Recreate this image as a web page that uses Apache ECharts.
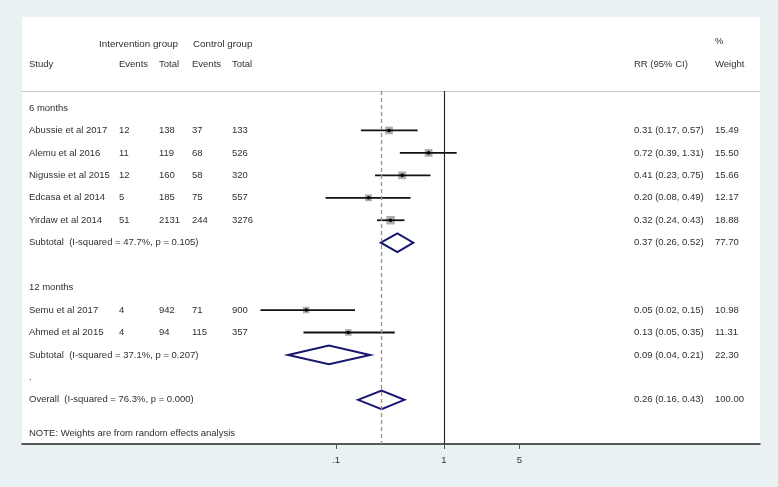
<!DOCTYPE html>
<html><head><meta charset="utf-8">
<script src="https://cdn.jsdelivr.net/npm/echarts@6/dist/echarts.min.js"></script>
<style>html,body{margin:0;padding:0;background:#e9f1f3}#c{width:778px;height:487px}</style>
</head><body><div id="c"></div><script>
// ---- data ----
const studies = ['Abussie et al 2017','Alemu et al 2016','Nigussie et al 2015','Edcasa et al 2014','Yirdaw et al 2014','Semu et al 2017','Ahmed et al 2015'];
const intEvents = [12, 11, 12, 5, 51, 4, 4];
const intTotal = [138, 119, 160, 185, 2131, 942, 94];
const ctlEvents = [37, 68, 58, 75, 244, 71, 115];
const ctlTotal = [133, 526, 320, 557, 3276, 900, 357];
const rr = [0.31, 0.72, 0.41, 0.20, 0.32, 0.053, 0.13];
const rrLo = [0.17, 0.39, 0.23, 0.08, 0.24, 0.02, 0.05];
const rrHi = [0.57, 1.31, 0.75, 0.49, 0.43, 0.15, 0.35];
const weight = [15.49, 15.50, 15.66, 12.17, 18.88, 10.98, 11.31];
const studyRows = [1, 2, 3, 4, 5, 9, 10];

const groups = ['6 months', '12 months'];
const groupRows = [0, 8];
const subLabels = ['Subtotal  (I-squared = 47.7%, p = 0.105)', 'Subtotal  (I-squared = 37.1%, p = 0.207)'];
const subRR = [0.37, 0.086];
const subLo = [0.26, 0.036];
const subHi = [0.52, 0.207];
const subWeight = [77.70, 22.30];
const subRows = [6, 11];

const overallLabel = 'Overall  (I-squared = 76.3%, p = 0.000)';
const overallRR = 0.264, overallLo = 0.16, overallHi = 0.43, overallWeight = 100.00;
const overallRow = 13;
const dotRow = 12;
const note = 'NOTE: Weights are from random effects analysis';
const noteRow = 14.5;

const tickValues = [0.1, 1, 5];
const tickLabels = ['.1', '1', '5'];

// ---- layout ----
const COL = {study: 7, intHead: 77, ctlHead: 171, intEv: 97, intTot: 137, ctlEv: 170, ctlTot: 210, rr: 612, wt: 693};
const HEAD1 = -2.85, HEAD2 = -1.95, PCT = -2.95;
const FAM = '"Liberation Sans", Arial, sans-serif';
const FONT = '9.5px ' + FAM;
const HFONT = '9.8px ' + FAM;
const TEXT = '#303030';
const lg = Math.log10;
const fmtCI = (a, b, c) => `${a.toFixed(2)} (${b.toFixed(2)}, ${c.toFixed(2)})`;

const textItems = [];
function addText(x, row, str, font) { textItems.push({value: [x, row], str: String(str), font: font || FONT}); }
addText(COL.intHead, HEAD1, 'Intervention group', HFONT);
addText(COL.ctlHead, HEAD1, 'Control group', HFONT);
addText(COL.wt, PCT, '%');
addText(COL.study, HEAD2, 'Study');
addText(COL.intEv, HEAD2, 'Events');
addText(COL.intTot, HEAD2, 'Total');
addText(COL.ctlEv, HEAD2, 'Events');
addText(COL.ctlTot, HEAD2, 'Total');
addText(COL.rr, HEAD2, 'RR (95% CI)');
addText(COL.wt, HEAD2, 'Weight');
groups.forEach((g, i) => addText(COL.study, groupRows[i], g));
studies.forEach((s, i) => {
  const r = studyRows[i];
  addText(COL.study, r, s);
  addText(COL.intEv, r, intEvents[i]);
  addText(COL.intTot, r, intTotal[i]);
  addText(COL.ctlEv, r, ctlEvents[i]);
  addText(COL.ctlTot, r, ctlTotal[i]);
  addText(COL.rr, r, fmtCI(rr[i], rrLo[i], rrHi[i]));
  addText(COL.wt, r, weight[i].toFixed(2));
});
subLabels.forEach((s, i) => {
  addText(COL.study, subRows[i], s);
  addText(COL.rr, subRows[i], fmtCI(subRR[i], subLo[i], subHi[i]));
  addText(COL.wt, subRows[i], subWeight[i].toFixed(2));
});
addText(COL.study, dotRow, '.');
addText(COL.study, overallRow, overallLabel);
addText(COL.rr, overallRow, fmtCI(overallRR, overallLo, overallHi));
addText(COL.wt, overallRow, overallWeight.toFixed(2));
addText(COL.study, noteRow, note);

const studyData = studies.map((s, i) => [lg(rr[i]), lg(rrLo[i]), lg(rrHi[i]), studyRows[i], weight[i]]);
const diamondData = subRR.map((v, i) => [lg(v), lg(subLo[i]), lg(subHi[i]), subRows[i]])
  .concat([[lg(overallRR), lg(overallLo), lg(overallHi), overallRow]]);

const chart = echarts.init(document.getElementById('c'), null, {renderer: 'canvas'});
const XMIN = -3.9074, XMAX = 2.9259;
chart.setOption({
  backgroundColor: '#e9f1f3',
  animation: false,
  grid: [
    {left: 22, right: 18, top: 17, bottom: 43, show: true, backgroundColor: '#ffffff', borderWidth: 0},
    {left: 22, right: 18, top: 91, bottom: 43}
  ],
  xAxis: [
    {gridIndex: 0, type: 'value', min: 0, max: 738, show: false},
    {gridIndex: 1, type: 'value', min: XMIN, max: XMAX, position: 'bottom',
      axisLine: {show: true, onZero: false, lineStyle: {color: '#222', width: 1.5}},
      axisTick: {show: true, length: 5, customValues: tickValues.map(lg), lineStyle: {color: '#555'}},
      axisLabel: {show: true, margin: 11, color: '#333', fontSize: 9.5, fontFamily: FAM,
        customValues: tickValues.map(lg),
        formatter: v => { const i = tickValues.findIndex(t => Math.abs(lg(t) - v) < 1e-6); return i >= 0 ? tickLabels[i] : ''; }},
      splitLine: {show: false}},
    {gridIndex: 1, type: 'value', min: XMIN, max: XMAX, position: 'top',
      axisLine: {show: true, onZero: false, lineStyle: {color: '#c8c8c8', width: 1}},
      axisTick: {show: false}, axisLabel: {show: false}, splitLine: {show: false}}
  ],
  yAxis: [
    {gridIndex: 0, type: 'value', inverse: true, min: -4.0535, max: 14.9666, show: false},
    {gridIndex: 1, type: 'value', inverse: true, min: -0.757, max: 14.9666, show: false}
  ],
  series: [
    {
      type: 'custom', xAxisIndex: 0, yAxisIndex: 0, clip: false,
      data: textItems.map(t => t.value), encode: {x: 0, y: 1},
      renderItem: (params, api) => {
        const p = api.coord([api.value(0), api.value(1)]);
        const it = textItems[params.dataIndex];
        return {type: 'text', x: p[0], y: p[1], style: {text: it.str, fill: TEXT, font: it.font,
          align: 'left', verticalAlign: 'middle', textAlign: 'left', textVerticalAlign: 'middle'}};
      },
      z: 5
    },
    {
      type: 'custom', xAxisIndex: 1, yAxisIndex: 1, clip: false,
      data: studyData, encode: {x: [0, 1, 2], y: 3},
      renderItem: (params, api) => {
        const row = api.value(3);
        const c = api.coord([api.value(0), row]);
        const l = api.coord([api.value(1), row]);
        const h = api.coord([api.value(2), row]);
        const s = Math.sqrt(api.value(4)) * 1.95;
        return {type: 'group', children: [
          {type: 'rect', shape: {x: c[0] - s / 2, y: c[1] - s / 2, width: s, height: s}, style: {fill: '#adadad'}},
          {type: 'line', shape: {x1: l[0], y1: c[1], x2: h[0], y2: c[1]}, style: {stroke: '#111', lineWidth: 1.8}},
          {type: 'circle', shape: {cx: c[0], cy: c[1], r: 1.8}, style: {fill: '#000'}}
        ]};
      },
      z: 4
    },
    {
      type: 'custom', xAxisIndex: 1, yAxisIndex: 1, clip: false,
      data: diamondData, encode: {x: [0, 1, 2], y: 3},
      renderItem: (params, api) => {
        const row = api.value(3);
        const c = api.coord([api.value(0), row]);
        const l = api.coord([api.value(1), row]);
        const h = api.coord([api.value(2), row]);
        const hh = 9.3;
        return {type: 'polygon', shape: {points: [[l[0], c[1]], [c[0], c[1] - hh], [h[0], c[1]], [c[0], c[1] + hh]]},
          style: {fill: 'none', stroke: '#17176f', lineWidth: 2}};
      },
      markLine: {
        silent: true, symbol: 'none', label: {show: false},
        data: [
          {xAxis: 0, lineStyle: {color: '#222', width: 1.1, type: 'solid'}},
          {xAxis: lg(overallRR), lineStyle: {color: '#c07f80', width: 1.3, type: [4, 3]}}
        ]
      },
      z: 3
    }
  ]
});
</script></body></html>
